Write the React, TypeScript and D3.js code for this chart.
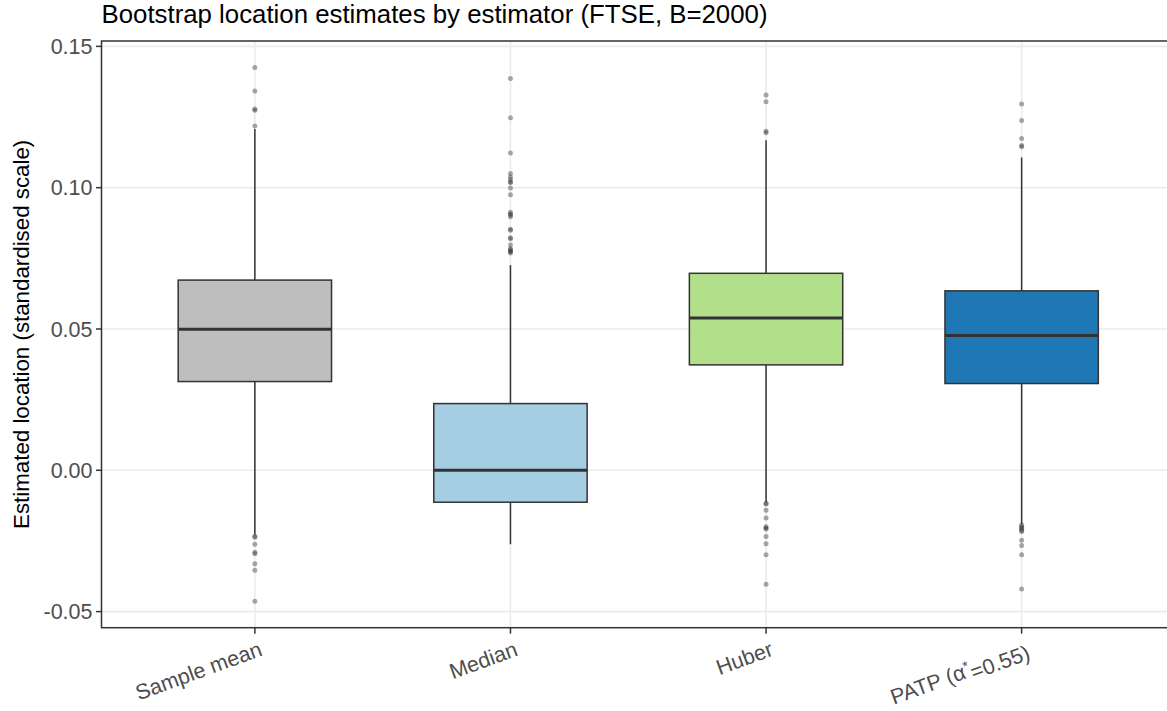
import React from 'react';
import * as d3 from 'd3';

// estimators, in axis order
const estimators = ['Sample mean', 'Median', 'Huber', 'PATP'];
const fills = ['#BEBEBE', '#A6CEE3', '#B2DF8A', '#1F78B4'];

// box statistics
const lowerWhisker = [-0.0228, -0.0262, -0.0112, -0.019];
const q1Values = [0.0314, -0.0113, 0.0373, 0.0307];
const medianValues = [0.0499, 0.0, 0.0539, 0.0477];
const q3Values = [0.0673, 0.0236, 0.0697, 0.0635];
const upperWhisker = [0.1208, 0.0726, 0.1168, 0.1107];

// outliers per estimator
const meanOutliers = [0.1425, 0.1342, 0.1278, 0.1274, 0.1218, -0.0233, -0.0237, -0.0262, -0.029, -0.0295, -0.0331, -0.0354, -0.0463];
const medianOutliers = [0.1386, 0.1247, 0.1123, 0.105, 0.1038, 0.1029, 0.102, 0.1018, 0.0999, 0.0975, 0.0913, 0.0907, 0.0903, 0.0897, 0.0853, 0.0849, 0.0823, 0.0819, 0.0797, 0.0784, 0.078, 0.0776, 0.0772, 0.0769];
const huberOutliers = [0.1328, 0.1304, 0.12, 0.1194, -0.0117, -0.0119, -0.0141, -0.0169, -0.02, -0.0204, -0.0208, -0.0234, -0.026, -0.0299, -0.0403];
const patpOutliers = [0.1296, 0.1238, 0.1174, 0.1149, 0.1145, -0.0194, -0.0199, -0.0203, -0.0208, -0.0213, -0.0217, -0.0248, -0.0266, -0.0299, -0.042];
const outliers = [meanOutliers, medianOutliers, huberOutliers, patpOutliers];

const yTicks = [-0.05, 0, 0.05, 0.1, 0.15];

const W = 1167;
const H = 711;
const font = '"Liberation Sans", Arial, Helvetica, sans-serif';

export default function App() {
  const panel = { left: 101.5, right: 1175, top: 41, bottom: 627.7 };

  // discrete axis with ggplot-style 0.6 expansion on each side
  const x = d3.scaleLinear().domain([0.4, 4.6]).range([panel.left, panel.right]);
  const y = d3.scaleLinear().domain([-0.0557, 0.1519]).range([panel.bottom, panel.top]);
  const halfBox = (x(1.3) - x(1));

  return (
    <svg width={W} height={H} style={{ position: 'absolute', left: 0, top: 0, background: '#fff' }} fontFamily={font}>
      <defs>
        <clipPath id="panel">
          <rect x={panel.left} y={panel.top} width={panel.right - panel.left} height={panel.bottom - panel.top} />
        </clipPath>
      </defs>

      <text x={panel.left} y={23.3} fontSize={25.8} fill="#000">
        Bootstrap location estimates by estimator (FTSE, B=2000)
      </text>

      {/* grid */}
      <g clipPath="url(#panel)">
        {yTicks.map(t => (
          <line key={t} x1={panel.left} x2={panel.right} y1={y(t)} y2={y(t)} stroke="#EBEBEB" strokeWidth={1.6} />
        ))}
        {estimators.map((e, i) => (
          <line key={e} x1={x(i + 1)} x2={x(i + 1)} y1={panel.top} y2={panel.bottom} stroke="#EBEBEB" strokeWidth={1.6} />
        ))}
      </g>

      {/* boxes */}
      <g clipPath="url(#panel)">
        {estimators.map((e, i) => {
          const cx = x(i + 1);
          return (
            <g key={e}>
              <line x1={cx} x2={cx} y1={y(upperWhisker[i])} y2={y(q3Values[i])} stroke="#333" strokeWidth={1.5} />
              <line x1={cx} x2={cx} y1={y(q1Values[i])} y2={y(lowerWhisker[i])} stroke="#333" strokeWidth={1.5} />
              <rect
                x={cx - halfBox}
                width={halfBox * 2}
                y={y(q3Values[i])}
                height={y(q1Values[i]) - y(q3Values[i])}
                fill={fills[i]}
                stroke="#333"
                strokeWidth={1.5}
              />
              <line x1={cx - halfBox} x2={cx + halfBox} y1={y(medianValues[i])} y2={y(medianValues[i])} stroke="#333" strokeWidth={3} />
              {outliers[i].map((v, j) => (
                <circle key={j} cx={cx} cy={y(v)} r={2.5} fill="#333" fillOpacity={0.42} />
              ))}
            </g>
          );
        })}
      </g>

      {/* panel border */}
      <rect
        x={panel.left}
        y={panel.top}
        width={panel.right - panel.left}
        height={panel.bottom - panel.top}
        fill="none"
        stroke="#333"
        strokeWidth={1.5}
      />

      {/* y axis */}
      {yTicks.map(t => (
        <g key={t}>
          <line x1={panel.left - 5.5} x2={panel.left} y1={y(t)} y2={y(t)} stroke="#333" strokeWidth={1.5} />
          <text x={panel.left - 9} y={y(t)} dy="0.36em" textAnchor="end" fontSize={21.5} fill="#4D4D4D">
            {d3.format('.2f')(t).replace('−', '-')}
          </text>
        </g>
      ))}
      <text
        transform={`translate(29, ${(panel.top + panel.bottom) / 2}) rotate(-90)`}
        textAnchor="middle"
        fontSize={22.3}
        fill="#000"
      >
        Estimated location (standardised scale)
      </text>

      {/* x axis */}
      {estimators.map((e, i) => {
        const cx = x(i + 1);
        return (
          <g key={e}>
            <line x1={cx} x2={cx} y1={panel.bottom} y2={panel.bottom + 6} stroke="#333" strokeWidth={1.5} />
            <text
              transform={`translate(${cx + 3}, 640) rotate(-20)`}
              textAnchor="end"
              dy="0.75em"
              fontSize={21.5}
              fill="#4D4D4D"
            >
              {e === 'PATP' ? (
                <>
                  PATP (α<tspan dy="-0.5em" fontSize={14}>*</tspan>
                  <tspan dy="0.5em">=0.55)</tspan>
                </>
              ) : e}
            </text>
          </g>
        );
      })}
    </svg>
  );
}
